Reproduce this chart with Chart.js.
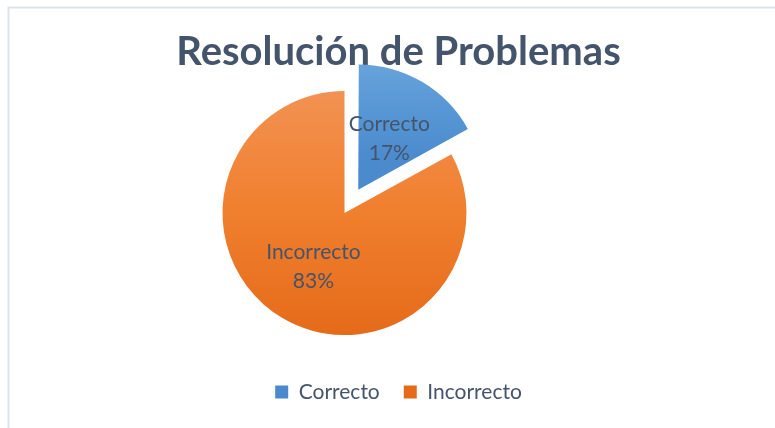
<!DOCTYPE html>
<html>
<head>
<meta charset="utf-8">
<script src="https://cdn.jsdelivr.net/npm/chart.js@4"></script>
<style>
  html, body { margin: 0; padding: 0; background: #fff; }
  #wrap { width: 775px; height: 428px; }
</style>
</head>
<body>
<div id="wrap"><canvas id="grafico"></canvas></div>
<script>
const titulo = "Resolución de Problemas";
const categorias = ["Correcto", "Incorrecto"];
const valores = [17, 83];
const separaciones = [108, 0];   // offset de la porción (Chart.js lo divide entre 4)

const colorTexto = "#44546A";
const gradientes = [
  ["#70A9DE", "#5A99D6", "#4A8ACD"],
  ["#F29252", "#F07F2E", "#E56B1A"]
];

// centro y radio del pastel
const CENTRO_X = 344.5;
const CENTRO_Y = 213;
const RADIO = 122;

const total = valores.reduce((a, b) => a + b, 0);
const porcentajes = valores.map(v => Math.round(v / total * 100) + "%");

function relleno(c) {
  const i = c.dataIndex;
  const area = c.chart.chartArea;
  if (!area) return gradientes[i][1];
  const cy = (area.top + area.bottom) / 2;
  const d = separaciones[i] / 4;
  const g = c.chart.ctx.createLinearGradient(0, cy - RADIO - d, 0, i === 0 ? cy - d : cy + RADIO);
  g.addColorStop(0, gradientes[i][0]);
  g.addColorStop(0.5, gradientes[i][1]);
  g.addColorStop(1, gradientes[i][2]);
  return g;
}

// mueve el área del gráfico para que el pastel quede donde en el original
const ajusteArea = {
  id: "ajusteArea",
  afterLayout(chart) {
    const a = chart.chartArea;
    const dx = CENTRO_X - (a.left + a.right) / 2;
    const dy = CENTRO_Y - (a.top + a.bottom) / 2;
    a.left += dx; a.right += dx;
    a.top += dy; a.bottom += dy;
  }
};

const marco = {
  id: "marco",
  beforeDraw(chart) {
    const ctx = chart.ctx;
    ctx.save();
    ctx.strokeStyle = "#DEE4EB";
    ctx.lineWidth = 2;
    ctx.beginPath();
    ctx.moveTo(8.5, chart.height);
    ctx.lineTo(8.5, 7.5);
    ctx.lineTo(chart.width, 7.5);
    ctx.stroke();
    ctx.restore();
  }
};

const etiquetasArco = {
  id: "etiquetasArco",
  afterDatasetsDraw(chart) {
    const ctx = chart.ctx;
    const meta = chart.getDatasetMeta(0);
    ctx.save();
    ctx.font = "21px Lato";
    ctx.fillStyle = colorTexto;
    ctx.textAlign = "center";
    ctx.textBaseline = "middle";
    meta.data.forEach((arc, i) => {
      const mid = (arc.startAngle + arc.endAngle) / 2;
      const r = arc.outerRadius / 2 + (arc.options.offset || 0) / 4;
      const x = arc.x + Math.cos(mid) * r;
      const y = arc.y + Math.sin(mid) * r;
      ctx.fillText(categorias[i], x, y - 13);
      ctx.fillText(porcentajes[i], x, y + 16);
    });
    ctx.restore();
  }
};

new Chart(document.getElementById("grafico"), {
  type: "pie",
  data: {
    labels: categorias,
    datasets: [{
      data: valores,
      backgroundColor: relleno,
      borderWidth: 0,
      offset: separaciones
    }]
  },
  options: {
    responsive: true,
    maintainAspectRatio: false,
    animation: false,
    radius: RADIO,
    layout: { padding: { left: 22, right: 0, top: 0, bottom: 15.5 } },
    plugins: {
      title: {
        display: true,
        text: titulo,
        color: colorTexto,
        font: { family: "Lato", size: 40, weight: "bold" },
        padding: { top: 28.5, bottom: 10 }
      },
      legend: {
        position: "bottom",
        labels: {
          boxWidth: 13,
          boxHeight: 13,
          padding: 24,
          color: colorTexto,
          font: { family: "Lato", size: 21 }
        }
      },
      tooltip: { enabled: false }
    }
  },
  plugins: [ajusteArea, marco, etiquetasArco]
});
</script>
</body>
</html>
